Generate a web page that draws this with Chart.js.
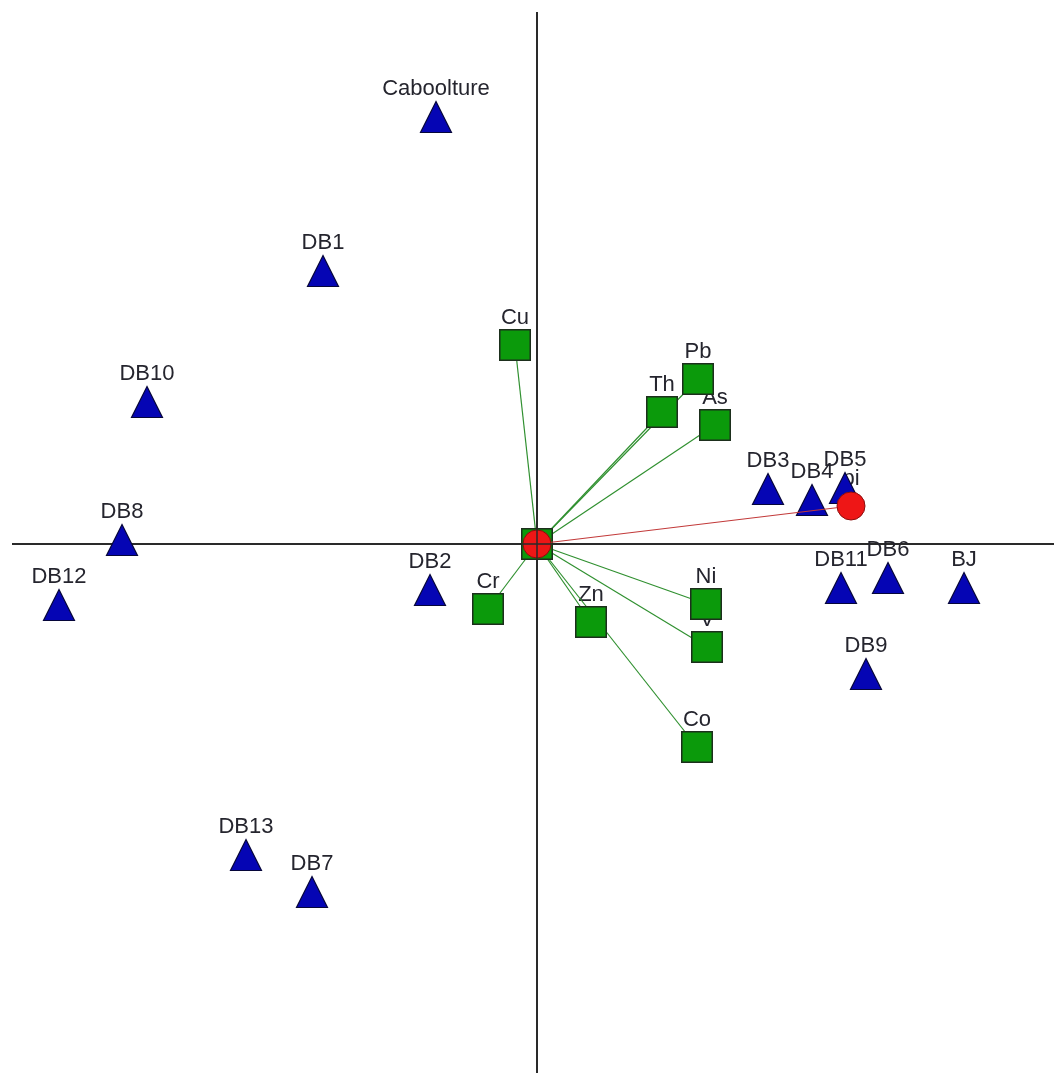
<!DOCTYPE html>
<html>
<head>
<meta charset="utf-8">
<script src="https://cdn.jsdelivr.net/npm/chart.js@4.4.1/dist/chart.umd.min.js"></script>
<style>
  html, body { margin: 0; padding: 0; background: #ffffff; }
  #wrap { width: 1054px; height: 1073px; position: relative; }
</style>
</head>
<body>
<div id="wrap"><canvas id="plot"></canvas></div>
<script>
// Sampling sites (blue triangles): plane coordinates
const siteNames = ['Caboolture', 'DB1', 'DB10', 'DB8', 'DB12', 'DB2', 'DB13', 'DB7',
                   'DB3', 'DB4', 'DB5', 'DB11', 'DB6', 'BJ', 'DB9'];
const siteX = [-1.01, -2.14, -3.90, -4.15, -4.78, -1.07, -2.91, -2.25,
               2.31, 2.75, 3.08, 3.04, 3.51, 4.27, 3.29];
const siteY = [4.27, 2.73, 1.42, 0.04, -0.61, -0.46, -3.11, -3.48,
               0.55, 0.44, 0.56, -0.44, -0.34, -0.44, -1.30];

// Elements (green squares): criterion axes
const elemNames = ['Cu', 'Pb', 'Th', 'As', 'Cr', 'Zn', 'Ni', 'V', 'Co'];
const elemX = [-0.22, 1.61, 1.25, 1.78, -0.49, 0.54, 1.69, 1.70, 1.60];
const elemY = [1.99, 1.65, 1.32, 1.19, -0.65, -0.78, -0.60, -1.03, -2.03];

// Decision axis (red circle)
const piNames = ['pi'];
const piX = [3.14];
const piY = [0.38];

// Plane extents
const xLimits = [-5.37, 5.17];
const yLimits = [-5.29, 5.44];

const pts = (xs, ys) => xs.map((v, i) => ({ x: v, y: ys[i] }));

// Marker images
function triangleMarker() {
  const c = document.createElement('canvas');
  c.width = 34; c.height = 34;
  const g = c.getContext('2d');
  g.beginPath();
  g.moveTo(17, 1.5);
  g.lineTo(32.5, 32.5);
  g.lineTo(1.5, 32.5);
  g.closePath();
  g.fillStyle = '#0505b4';
  g.fill();
  g.lineWidth = 1.2;
  g.strokeStyle = '#06063a';
  g.stroke();
  return c;
}
function squareMarker() {
  const c = document.createElement('canvas');
  c.width = 32; c.height = 32;
  const g = c.getContext('2d');
  g.fillStyle = '#1d2f1d';
  g.fillRect(0, 0, 32, 32);
  g.fillStyle = '#0b9a0b';
  g.fillRect(1.5, 1.5, 29, 29);
  return c;
}
const tri = triangleMarker();
const sq = squareMarker();

const rayDatasets = elemX.map((v, i) => ({
  data: [{ x: 0, y: 0 }, { x: v, y: elemY[i] }],
  showLine: true,
  borderColor: '#309030',
  borderWidth: 1.2,
  pointRadius: 0,
  order: 6
}));

const datasets = [
  ...rayDatasets,
  {
    data: pts(elemX, elemY), labels: elemNames, labelLift: 21,
    pointStyle: sq, pointRadius: 16, order: 4
  },
  {
    data: [{ x: 0, y: 0 }],
    pointStyle: sq, pointRadius: 16, order: 4
  },
  {
    data: pts(siteX, siteY), labels: siteNames, labelLift: 22,
    pointStyle: tri, pointRadius: 17, order: 3
  },
  {
    data: [{ x: 0, y: 0 }, { x: piX[0], y: piY[0] }],
    showLine: true,
    borderColor: '#c23a3a',
    borderWidth: 1.2,
    pointRadius: 0,
    order: 2
  },
  {
    data: [{ x: 0, y: 0 }],
    pointStyle: 'circle', pointRadius: 14,
    backgroundColor: '#ee1616', borderColor: '#8a0d0d', borderWidth: 1,
    order: 1
  },
  {
    data: pts(piX, piY), labels: piNames, labelLift: 21,
    pointStyle: 'circle', pointRadius: 14,
    backgroundColor: '#ee1616', borderColor: '#8a0d0d', borderWidth: 1,
    order: 1
  }
];

const planeOverlay = {
  id: 'planeOverlay',
  beforeDatasetsDraw(chart) {
    const { ctx, chartArea: a, scales: { x, y } } = chart;
    const ox = x.getPixelForValue(0), oy = y.getPixelForValue(0);
    ctx.save();
    ctx.strokeStyle = '#2a2a2a';
    ctx.lineWidth = 2;
    ctx.beginPath();
    ctx.moveTo(a.left + 12, oy); ctx.lineTo(a.right, oy);
    ctx.moveTo(ox, a.top + 12); ctx.lineTo(ox, a.bottom);
    ctx.stroke();

    ctx.font = '22px "Liberation Sans", Arial, sans-serif';
    ctx.fillStyle = '#25252e';
    ctx.textAlign = 'center';
    ctx.textBaseline = 'alphabetic';
    chart.data.datasets.forEach(ds => {
      if (!ds.labels) return;
      ds.data.forEach((p, i) => {
        const px = x.getPixelForValue(p.x), py = y.getPixelForValue(p.y);
        ctx.fillText(ds.labels[i], px, py - ds.labelLift);
      });
    });
    ctx.restore();
  },
  afterDatasetsDraw(chart) {
    // crosshair through the centre marker
    const { ctx, scales: { x, y } } = chart;
    const ox = x.getPixelForValue(0), oy = y.getPixelForValue(0);
    ctx.save();
    ctx.strokeStyle = '#2a2a2a';
    ctx.lineWidth = 1.5;
    ctx.beginPath();
    ctx.moveTo(ox - 15, oy); ctx.lineTo(ox + 15, oy);
    ctx.moveTo(ox, oy - 15); ctx.lineTo(ox, oy + 15);
    ctx.stroke();
    ctx.restore();
  }
};

new Chart(document.getElementById('plot'), {
  type: 'scatter',
  data: { datasets },
  options: {
    animation: false,
    responsive: true,
    maintainAspectRatio: false,
    events: [],
    layout: { padding: 0, autoPadding: false },
    plugins: { legend: { display: false }, tooltip: { enabled: false } },
    scales: {
      x: { type: 'linear', min: xLimits[0], max: xLimits[1], display: false },
      y: { type: 'linear', min: yLimits[0], max: yLimits[1], display: false }
    }
  },
  plugins: [planeOverlay]
});
</script>
</body>
</html>
